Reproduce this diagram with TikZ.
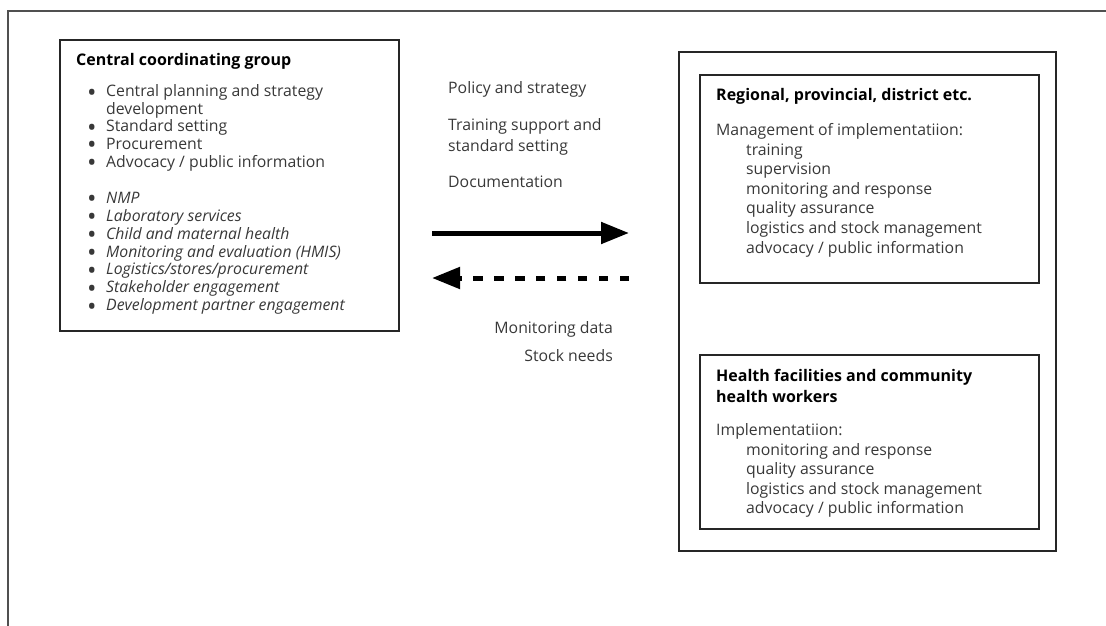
\documentclass[tikz,border=0pt]{standalone}
\usepackage{fontspec}
\setmainfont{Open Sans}
\usetikzlibrary{arrows.meta}
\definecolor{bodygray}{HTML}{383838}
\definecolor{framegray}{HTML}{505050}
\newcommand\bulmark{\makebox[19pt][l]{\smash{\raisebox{-4.3pt}{\scalebox{1.6}{\textbullet}}}}}
\tikzset{
  bodytxt/.style={font=\fontsize{15.8}{17}\selectfont, text=bodygray, inner sep=0pt, anchor=base west},
  titletxt/.style={font=\fontsize{16}{17}\selectfont\bfseries, text=black, inner sep=0pt, anchor=base west},
  boxframe/.style={draw=black!85, line width=1.2pt, inner sep=0pt},
  bigarrow/.style={line width=5pt, -{Triangle[length=28pt,width=21pt]}},
}
\begin{document}
\begin{tikzpicture}[x=1pt,y=-1pt]
\useasboundingbox (0,0) rectangle (1106,626);
% outer frame (partly visible)
\coordinate (fbl) at (8,626);
\coordinate (ftl) at (8,11);
\coordinate (ftr) at (1106,11);
\draw[framegray, line width=1.5pt] (fbl) -- (ftl) -- (ftr);

% boxes
\node[boxframe, minimum width=339pt, minimum height=291pt] (cbox) at (229.5,185.5) {};
\node[boxframe, minimum width=377pt, minimum height=499pt] (rbox) at (867.5,301.5) {};
\node[boxframe, minimum width=339pt, minimum height=208pt] (regbox) at (869.5,179) {};
\node[boxframe, minimum width=339pt, minimum height=174pt] (hbox) at (869.5,442) {};

% central coordinating group
\node[titletxt] (ctitle) at (76,65.7) {Central coordinating group};
\node[bodytxt] (c1) at (87,96.7) {\bulmark Central planning and strategy};
\node[bodytxt] (c1b) at (106,114.3) {development};
\node[bodytxt] (c2) at (87,131.9) {\bulmark Standard setting};
\node[bodytxt] (c3) at (87,149.5) {\bulmark Procurement};
\node[bodytxt] (c4) at (87,167.1) {\bulmark Advocacy / public information};
\foreach \t [count=\i from 0] in {NMP,Laboratory services,Child and maternal health,Monitoring and evaluation (HMIS),Logistics/stores/procurement,Stakeholder engagement,Development partner engagement}
  \node[bodytxt] (ci\i) at (87,203.3+17.9*\i) {\bulmark\textit{\t}};

% middle labels
\node[bodytxt] (m1) at (448,93.3) {Policy and strategy};
\node[bodytxt] (m2) at (448,130) {Training support and};
\node[bodytxt] (m2b) at (448,151.7) {standard setting};
\node[bodytxt] (m3) at (448,187.7) {Documentation};
\node[bodytxt, anchor=base east] (m4) at (613,333.3) {Monitoring data};
\node[bodytxt, anchor=base east] (m5) at (613,361) {Stock needs};

% arrows
\coordinate (a1s) at (432,233);
\coordinate (a1e) at (629,233);
\coordinate (a2s) at (629,278);
\coordinate (a2e) at (432,278);
\draw[bigarrow] (a1s) -- (a1e);
\draw[bigarrow, dash pattern=on 9.5pt off 11.4pt] (a2s) -- (a2e);

% regional box
\node[titletxt] (rtitle) at (716,100) {Regional, provincial, district etc.};
\node[bodytxt] (r0) at (716,135) {Management of implementatiion:};
\foreach \t [count=\i from 0] in {training,supervision,monitoring and response,quality assurance,logistics and stock management,advocacy / public information}
  \node[bodytxt] (r\i x) at (746,155+19.6*\i) {\t};

% health facilities box
\node[titletxt] (htitle) at (716,381.7) {Health facilities and community};
\node[titletxt] (htitleb) at (716,402.3) {health workers};
\node[bodytxt] (h0) at (716,435) {Implementatiion:};
\foreach \t [count=\i from 0] in {monitoring and response,quality assurance,logistics and stock management,advocacy / public information}
  \node[bodytxt] (h\i x) at (746,455+19.6*\i) {\t};
\end{tikzpicture}
\end{document}
